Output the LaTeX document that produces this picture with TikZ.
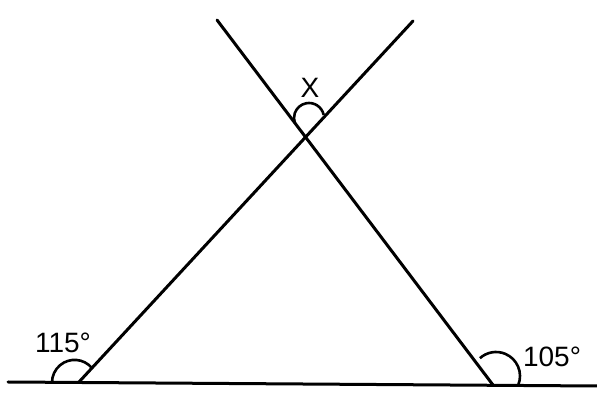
\documentclass[tikz,border=0pt]{standalone}
\usepackage{fontspec}
\setmainfont{Liberation Sans}
\begin{document}
\begin{tikzpicture}[x=1pt,y=1pt,
  geoline/.style={line width=3pt,line cap=round,black},
  anglearc/.style={line width=2.6pt,black},
  anglelabel/.style={inner sep=0pt,font=\fontsize{28}{30}\selectfont}]
\useasboundingbox (0,0) rectangle (597,393);
\fill[white] (0,0) rectangle (597,393);
% base line
\coordinate (L) at (8,11);
\coordinate (R) at (597,7);
% vertices and line ends
\coordinate (A) at (79,11);
\coordinate (B) at (493,8);
\coordinate (T1) at (413,372);
\coordinate (T2) at (217,373);
\draw[geoline] (L) -- (R);
\draw[geoline] (A) -- (T1);
\draw[geoline] (B) -- (T2);
% angle arcs
\draw[anglearc] (74.6,10.5) ++(40:22.6pt) arc[start angle=40,end angle=180,radius=22.6pt];
\draw[anglearc] (496,17) ++(-22:24pt) arc[start angle=-22,end angle=132,radius=24pt];
\draw[anglearc] (309,275) ++(12:15pt) arc[start angle=12,end angle=200,radius=15pt];
% labels
\node[anglelabel] (a1) at (63,50) {115°};
\node[anglelabel] (a2) at (552,36) {105°};
\node[anglelabel] (x) at (310,305) {X};
\end{tikzpicture}
\end{document}
